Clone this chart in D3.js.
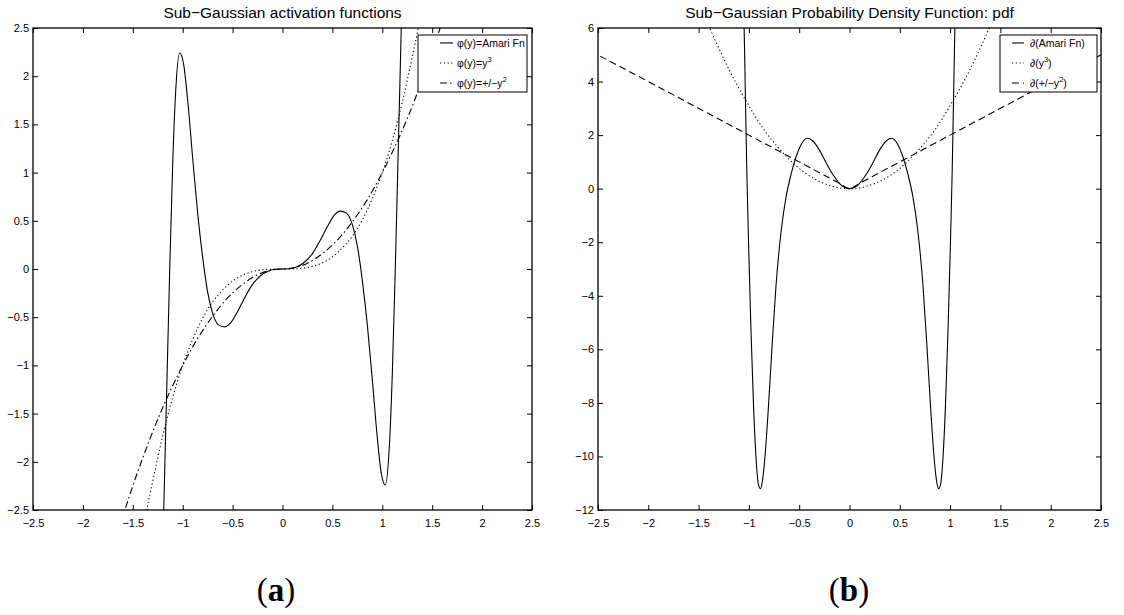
<!DOCTYPE html>
<html>
<head>
<meta charset="utf-8">
<script src="https://cdn.jsdelivr.net/npm/d3@7"></script>
<style>
  body { margin: 0; background: #fff; }
  svg text { font-family: "Liberation Sans", Arial, Helvetica, sans-serif; fill: #000; }
</style>
</head>
<body>
<svg id="fig" width="1124" height="615"></svg>
<script>
// ---------------- data ----------------
const xTicks = [-2.5, -2, -1.5, -1, -0.5, 0, 0.5, 1, 1.5, 2, 2.5];
const yTicksA = [-2.5, -2, -1.5, -1, -0.5, 0, 0.5, 1, 1.5, 2, 2.5];
const yTicksB = [-12, -10, -8, -6, -4, -2, 0, 2, 4, 6];

const titleA = "Sub\u2212Gaussian activation functions";
const titleB = "Sub\u2212Gaussian Probability Density Function: pdf";

// (a) activation functions
const amariPhi = [[-1.24,-5.0],[-1.19,-2.5],[-1.16,-1.25],[-1.13,0.0],[-1.10,1.1],[-1.07,1.85],[-1.03,2.24],
  [-0.99,2.12],[-0.95,1.75],[-0.90,1.15],[-0.85,0.58],[-0.80,0.12],[-0.75,-0.24],[-0.70,-0.46],[-0.64,-0.58],
  [-0.58,-0.60],[-0.52,-0.56],[-0.45,-0.44],[-0.38,-0.30],[-0.30,-0.16],[-0.22,-0.07],[-0.14,-0.02],[-0.07,-0.003],
  [0,0],[0.07,0.003],[0.14,0.02],[0.22,0.07],[0.30,0.16],[0.38,0.30],[0.45,0.44],[0.52,0.56],[0.58,0.60],
  [0.64,0.58],[0.70,0.46],[0.75,0.24],[0.80,-0.12],[0.85,-0.58],[0.90,-1.15],[0.95,-1.75],[0.99,-2.12],
  [1.03,-2.24],[1.07,-1.85],[1.10,-1.1],[1.13,0.0],[1.16,1.25],[1.19,2.5],[1.24,5.0]];
const cubicPhi = [[-1.40,-2.74],[-1.36,-2.5],[-1.3,-2.2],[-1.2,-1.73],[-1.1,-1.33],[-1.0,-1.0],[-0.9,-0.73],
  [-0.8,-0.51],[-0.7,-0.34],[-0.6,-0.22],[-0.5,-0.125],[-0.4,-0.064],[-0.3,-0.027],[-0.2,-0.008],[-0.1,-0.001],
  [0,0],[0.1,0.001],[0.2,0.008],[0.3,0.027],[0.4,0.064],[0.5,0.125],[0.6,0.22],[0.7,0.34],[0.8,0.51],
  [0.9,0.73],[1.0,1.0],[1.1,1.33],[1.2,1.73],[1.3,2.2],[1.36,2.5],[1.40,2.74]];
const squarePhi = [[-1.62,-2.62],[-1.58,-2.5],[-1.5,-2.25],[-1.4,-1.96],[-1.25,-1.56],[-1.1,-1.21],[-1.0,-1.0],
  [-0.85,-0.72],[-0.7,-0.49],[-0.55,-0.30],[-0.4,-0.16],[-0.25,-0.06],[-0.1,-0.01],[0,0],[0.1,0.01],
  [0.25,0.06],[0.4,0.16],[0.55,0.30],[0.7,0.49],[0.85,0.72],[1.0,1.0],[1.1,1.21],[1.25,1.56],[1.4,1.96],
  [1.5,2.25],[1.58,2.5],[1.62,2.62]];

// (b) densities
const amariPdf = [[-1.07,9],[-1.05,6.5],[-1.035,3.5],[-1.02,0.5],[-1.0,-2.5],[-0.98,-5.2],[-0.955,-8],
  [-0.93,-10],[-0.905,-11.05],[-0.885,-11.2],[-0.865,-10.9],[-0.84,-10.0],[-0.81,-8.4],[-0.77,-5.9],
  [-0.73,-3.6],[-0.68,-1.6],[-0.63,-0.3],[-0.58,0.55],[-0.53,1.2],[-0.48,1.65],[-0.42,1.88],[-0.37,1.8],
  [-0.30,1.45],[-0.23,0.95],[-0.16,0.5],[-0.09,0.16],[-0.04,0.03],[0,0],[0.04,0.03],[0.09,0.16],[0.16,0.5],
  [0.23,0.95],[0.30,1.45],[0.37,1.8],[0.42,1.88],[0.48,1.65],[0.53,1.2],[0.58,0.55],[0.63,-0.3],[0.68,-1.6],
  [0.73,-3.6],[0.77,-5.9],[0.81,-8.4],[0.84,-10.0],[0.865,-10.9],[0.885,-11.2],[0.905,-11.05],[0.93,-10],
  [0.955,-8],[0.98,-5.2],[1.0,-2.5],[1.02,0.5],[1.035,3.5],[1.05,6.5],[1.07,9]];
const cubicPdf = [[-1.55,7.4],[-1.39,6.0],[-1.25,4.85],[-1.1,3.75],[-1.0,3.1],[-0.85,2.2],[-0.7,1.5],
  [-0.55,0.92],[-0.4,0.48],[-0.25,0.19],[-0.1,0.03],[0,0],[0.1,0.03],[0.25,0.19],[0.4,0.48],[0.55,0.92],
  [0.7,1.5],[0.85,2.2],[1.0,3.1],[1.1,3.75],[1.25,4.85],[1.39,6.0],[1.55,7.4]];
const squarePdf = [[-2.48,4.95],[-2.0,4.0],[-1.5,3.0],[-1.0,2.0],[-0.5,1.0],[-0.25,0.5],[-0.1,0.2],[0,0],
  [0.1,0.2],[0.25,0.5],[0.5,1.0],[1.0,2.0],[1.5,3.0],[2.0,4.0],[2.5,5.0]];

// ---------------- drawing ----------------
const svg = d3.select("#fig");
const fmt = d3.format("");
const dotted = "1.2,2.6", dashDot = "7,3,1.5,3", dashed = "7,4";

function panel(cfg) {
  const x = d3.scaleLinear().domain([-2.5, 2.5]).range([cfg.left, cfg.right]);
  const y = d3.scaleLinear().domain(cfg.yDomain).range([cfg.bottom, cfg.top]);
  const g = svg.append("g");

  g.append("clipPath").attr("id", cfg.id + "-clip")
    .append("rect")
    .attr("x", cfg.left).attr("y", cfg.top)
    .attr("width", cfg.right - cfg.left).attr("height", cfg.bottom - cfg.top);

  // curves
  const line = d3.line().x(d => x(d[0])).y(d => y(d[1])).curve(d3.curveMonotoneX);
  const plot = g.append("g").attr("clip-path", "url(#" + cfg.id + "-clip)");
  cfg.series.forEach(s => {
    plot.append("path").datum(s.data)
      .attr("d", line)
      .attr("fill", "none")
      .attr("stroke", "#000")
      .attr("stroke-width", 1.1)
      .attr("stroke-dasharray", s.dash);
  });

  // axes with inward ticks on all four sides
  const ax = (sel) => { sel.select(".domain").remove(); sel.selectAll("line").attr("stroke", "#000"); };
  g.append("g").attr("transform", `translate(0,${cfg.bottom})`)
    .call(d3.axisBottom(x).tickValues(xTicks).tickFormat(fmt).tickSize(-5).tickPadding(9))
    .call(ax);
  g.append("g").attr("transform", `translate(0,${cfg.top})`)
    .call(d3.axisTop(x).tickValues(xTicks).tickFormat("").tickSize(-5))
    .call(ax);
  g.append("g").attr("transform", `translate(${cfg.left},0)`)
    .call(d3.axisLeft(y).tickValues(cfg.yTicks).tickFormat(fmt).tickSize(-5).tickPadding(4))
    .call(ax);
  g.append("g").attr("transform", `translate(${cfg.right},0)`)
    .call(d3.axisRight(y).tickValues(cfg.yTicks).tickFormat("").tickSize(-5))
    .call(ax);
  g.selectAll(".tick text").attr("font-size", 11).attr("font-family", "Liberation Sans, Arial, sans-serif");

  g.append("rect")
    .attr("x", cfg.left).attr("y", cfg.top)
    .attr("width", cfg.right - cfg.left).attr("height", cfg.bottom - cfg.top)
    .attr("fill", "none").attr("stroke", "#000").attr("stroke-width", 1.3);

  // title
  g.append("text")
    .attr("x", (cfg.left + cfg.right) / 2).attr("y", 18)
    .attr("text-anchor", "middle").attr("font-size", 15.5)
    .text(cfg.title);

  // legend
  const L = cfg.legend;
  const lg = g.append("g");
  lg.append("rect")
    .attr("x", L.x0).attr("y", L.y0).attr("width", L.x1 - L.x0).attr("height", L.y1 - L.y0)
    .attr("fill", "#fff").attr("stroke", "#000").attr("stroke-width", 1);
  cfg.series.forEach((s, i) => {
    const cy = L.y0 + 8 + i * 20;
    lg.append("line")
      .attr("x1", L.s0).attr("x2", L.s1).attr("y1", cy).attr("y2", cy)
      .attr("stroke", "#000").attr("stroke-width", 1.1).attr("stroke-dasharray", s.dash);
    const t = lg.append("text").attr("x", L.tx).attr("y", cy + 4).attr("font-size", 10.5);
    t.append("tspan").text(s.label[0]);
    if (s.label[1]) {
      t.append("tspan").attr("dy", -5).attr("font-size", 7.5).text(s.label[1]);
      t.append("tspan").attr("dy", 5).text(s.label[2] || "");
    }
  });

  // sub-figure label
  const cap = svg.append("text")
    .attr("x", cfg.capX).attr("y", 601)
    .attr("text-anchor", "middle")
    .attr("font-size", 33)
    .style("font-family", "'Liberation Serif', 'Times New Roman', serif");
  cap.append("tspan").text("(");
  cap.append("tspan").attr("font-weight", "bold").text(cfg.cap);
  cap.append("tspan").text(")");
}

panel({
  id: "a", left: 33, right: 532, top: 28, bottom: 510,
  yDomain: [-2.5, 2.5], yTicks: yTicksA, title: titleA, cap: "a", capX: 276,
  legend: { x0: 418, x1: 527, y0: 35, y1: 92, s0: 440, s1: 453, tx: 457 },
  series: [
    { data: amariPhi, dash: null, label: ["\u03c6(y)=Amari Fn"] },
    { data: cubicPhi, dash: dotted, label: ["\u03c6(y)=y", "3", ""] },
    { data: squarePhi, dash: dashDot, label: ["\u03c6(y)=+/\u2212y", "2", ""] }
  ]
});

panel({
  id: "b", left: 598, right: 1101, top: 28, bottom: 510,
  yDomain: [-12, 6], yTicks: yTicksB, title: titleB, cap: "b", capX: 849,
  legend: { x0: 1000, x1: 1097, y0: 35, y1: 92, s0: 1012, s1: 1024, tx: 1030 },
  series: [
    { data: amariPdf, dash: null, label: ["\u2202(Amari Fn)"] },
    { data: cubicPdf, dash: dotted, label: ["\u2202(y", "3", ")"] },
    { data: squarePdf, dash: dashed, label: ["\u2202(+/\u2212y", "2", ")"] }
  ]
});
</script>
</body>
</html>
